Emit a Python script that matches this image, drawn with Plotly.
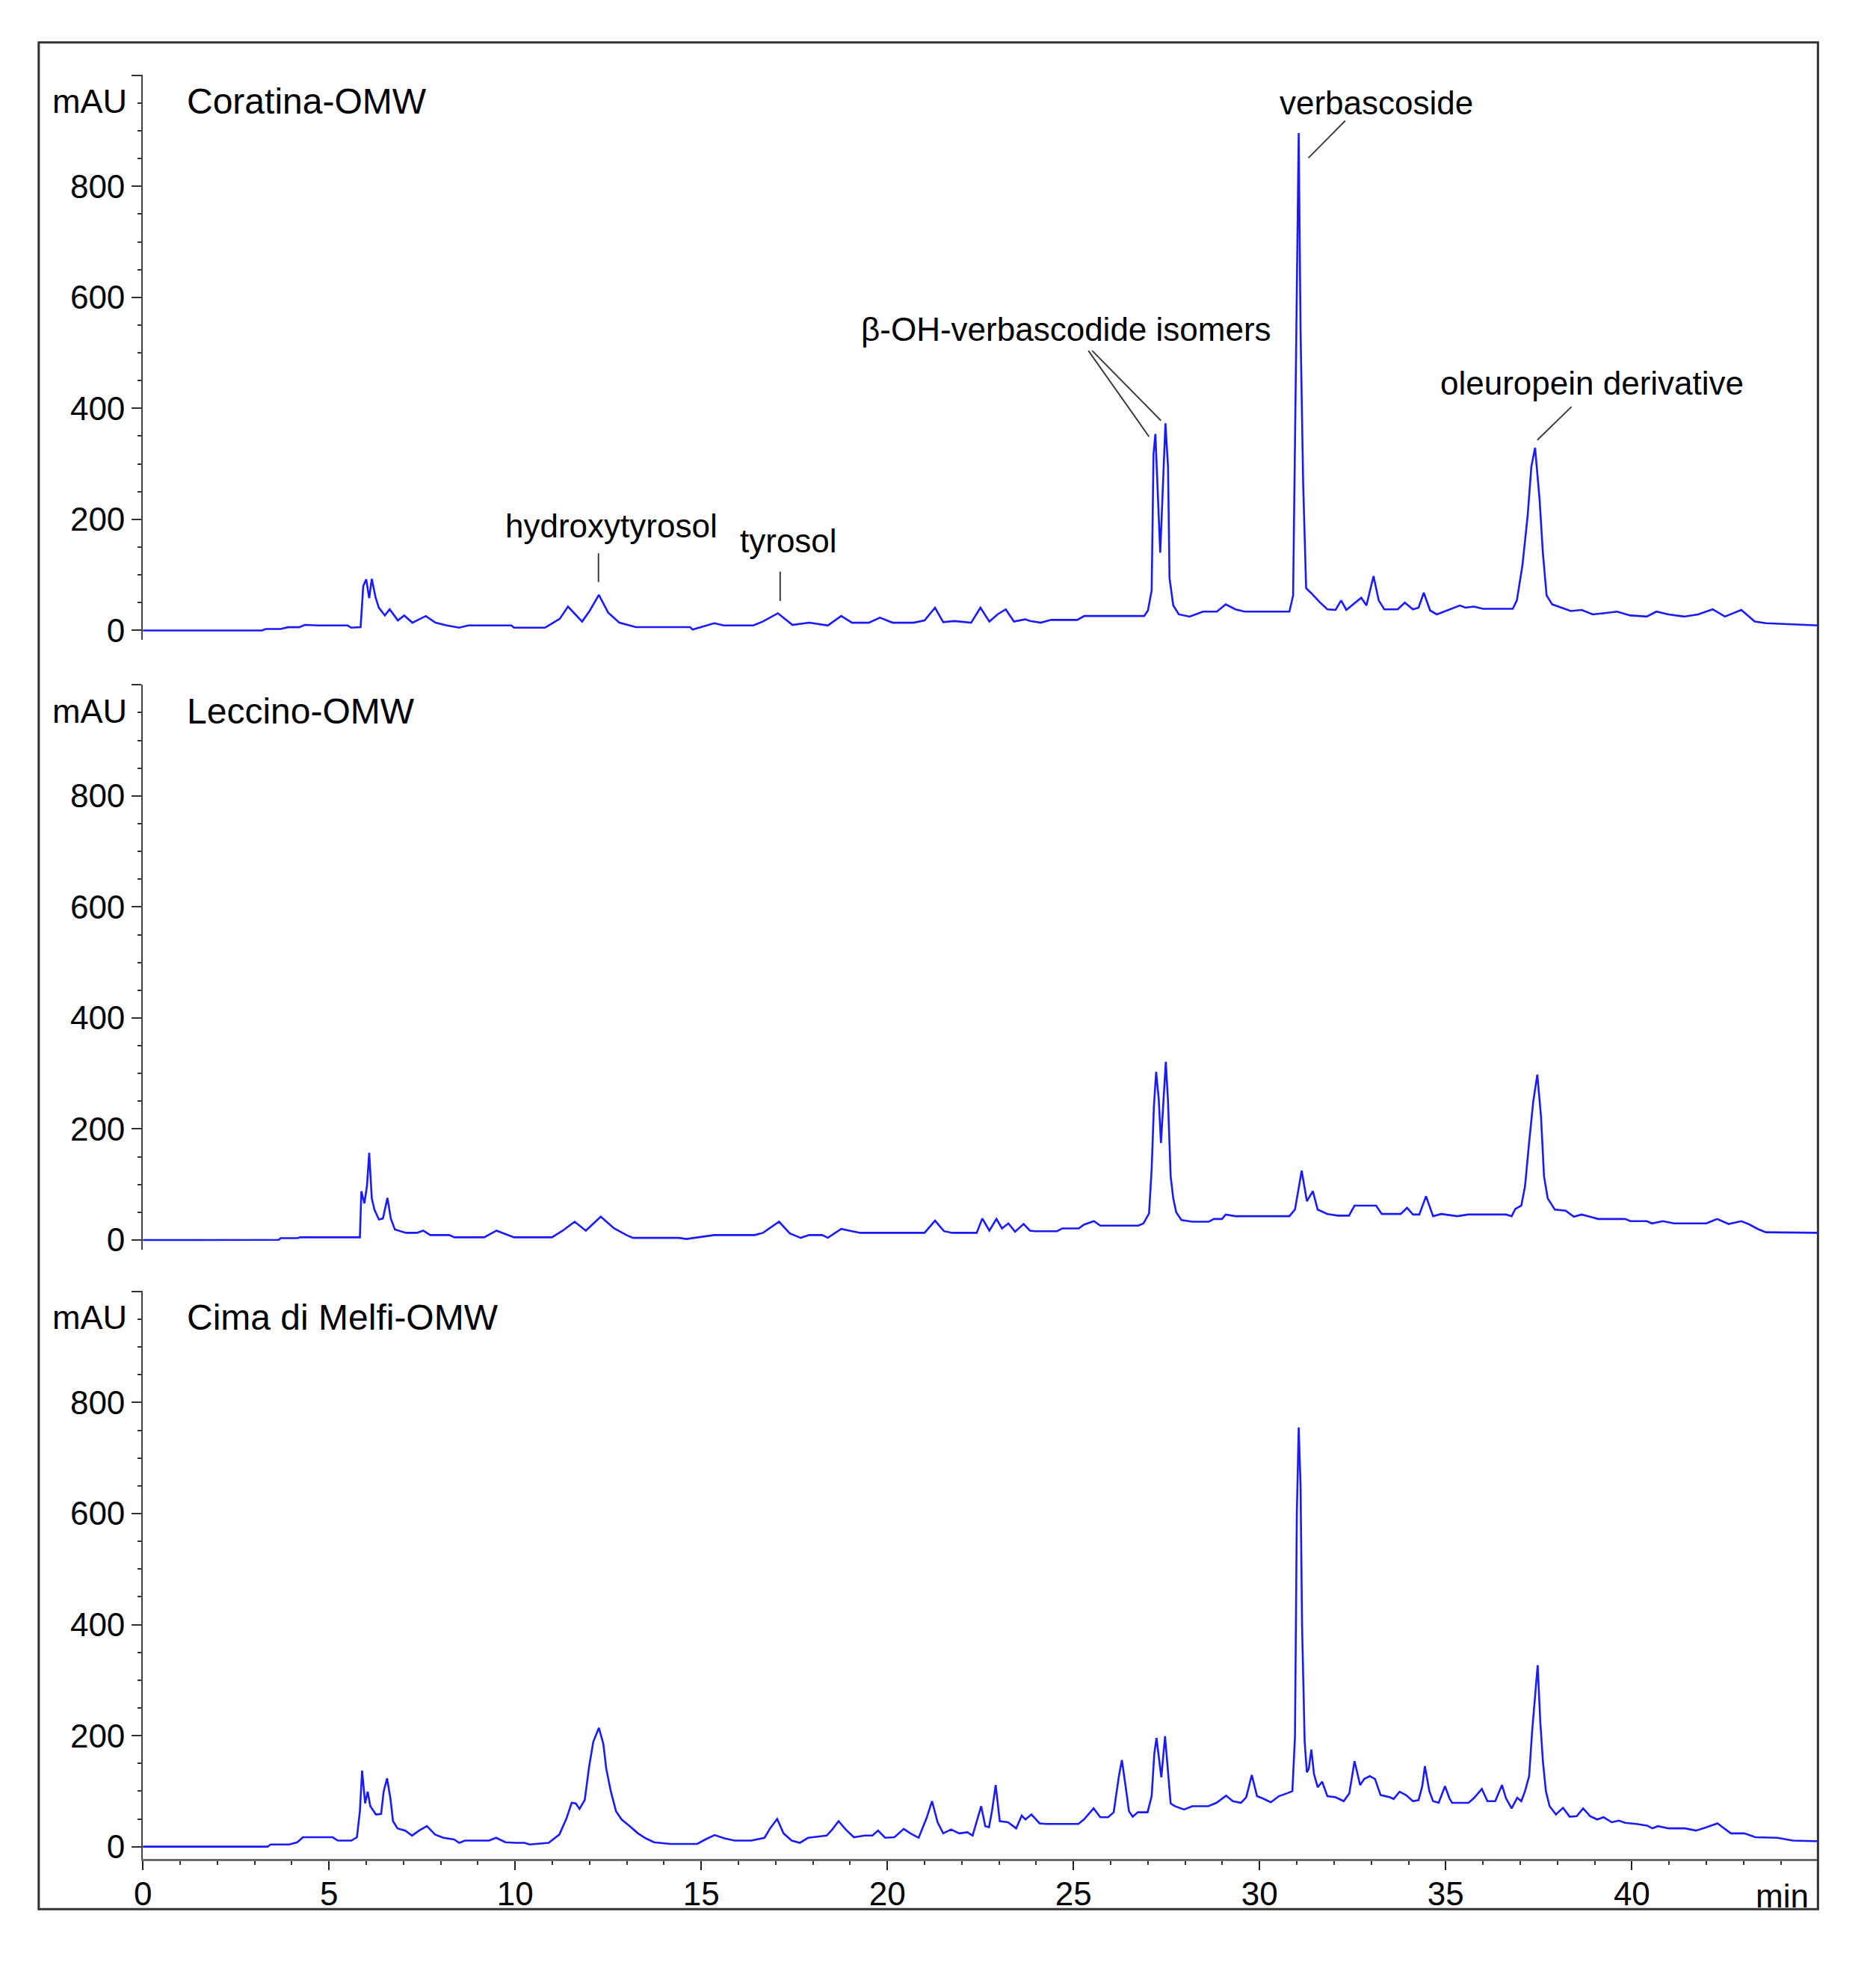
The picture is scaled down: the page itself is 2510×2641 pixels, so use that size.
import plotly.graph_objects as go

# ---------------------------------------------------------------
# DATA (retention time [min], absorbance [mAU])

coratina = [
    (0, 0), (3.2, 0), (3.3, 2.7), (3.7, 2.7), (3.9, 5.8), (4.2, 5.8), (4.35, 10), (4.7, 9),
    (5.5, 9), (5.6, 5), (5.85, 6), (5.92, 80), (6.0, 92), (6.08, 58), (6.15, 93), (6.25, 60),
    (6.34, 41), (6.5, 27), (6.63, 38), (6.85, 18), (7.02, 27), (7.24, 14), (7.6, 26), (7.86, 14),
    (8.16, 9), (8.5, 5), (8.74, 9), (9.9, 9), (9.97, 5), (10.8, 5), (10.9, 9), (11.2, 21),
    (11.42, 43), (11.8, 16), (12.0, 35), (12.25, 64), (12.5, 32), (12.8, 14), (13.24, 6),
    (14.7, 6), (14.77, 1.5), (15.0, 6), (15.35, 13), (15.6, 9), (16.4, 9), (16.65, 16),
    (17.06, 31), (17.45, 10), (17.9, 14), (18.4, 9), (18.76, 26), (19.05, 14), (19.5, 14),
    (19.8, 23), (20.14, 14), (20.7, 14), (21.0, 18), (21.28, 41), (21.5, 15), (21.8, 17),
    (22.25, 14), (22.5, 41), (22.74, 16), (22.96, 29), (23.18, 38), (23.4, 16), (23.7, 20),
    (23.83, 17), (24.12, 14), (24.4, 19), (25.1, 19), (25.29, 26), (26.0, 26), (26.9, 26),
    (27.0, 36), (27.1, 72), (27.15, 318), (27.2, 354), (27.33, 140), (27.47, 373), (27.54, 295),
    (27.58, 94), (27.68, 45), (27.83, 29), (28.12, 25), (28.48, 34), (28.85, 34), (29.09, 47),
    (29.35, 38), (29.6, 34), (30.8, 34), (30.9, 63), (30.98, 500), (31.05, 896), (31.1, 540),
    (31.17, 264), (31.25, 76), (31.39, 67), (31.6, 52), (31.82, 38), (32.04, 37), (32.19, 54),
    (32.33, 37), (32.55, 49), (32.73, 59), (32.87, 45), (33.06, 98), (33.2, 54), (33.35, 38),
    (33.71, 38), (33.9, 50), (34.12, 38), (34.27, 41), (34.41, 68), (34.58, 36), (34.76, 29),
    (35.02, 36), (35.38, 45), (35.53, 41), (35.75, 43), (36.0, 39), (36.8, 39), (36.91, 54),
    (37.06, 117), (37.2, 206), (37.3, 295), (37.4, 329), (37.52, 237), (37.61, 139),
    (37.71, 63), (37.86, 47), (38.07, 42), (38.36, 35), (38.65, 37), (38.95, 29), (39.24, 31),
    (39.6, 34), (39.96, 27), (40.4, 25), (40.66, 34), (40.98, 29), (41.4, 25), (41.78, 29),
    (42.17, 38), (42.5, 25), (42.94, 37), (43.3, 16), (43.6, 13), (44.76, 10), (45.0, 9),
]

leccino = [
    (0, 0), (3.65, 0.5), (3.7, 3.5), (4.15, 3.5), (4.23, 5), (5.83, 5), (5.87, 88), (5.95, 66),
    (6.02, 97), (6.08, 157), (6.15, 75), (6.22, 55), (6.34, 37), (6.45, 39), (6.57, 76),
    (6.66, 39), (6.77, 19), (7.07, 13), (7.36, 13), (7.53, 17), (7.72, 9), (8.23, 9), (8.37, 5),
    (9.17, 5), (9.5, 17), (9.97, 5), (10.99, 5), (11.28, 17), (11.6, 33), (11.9, 17),
    (12.3, 42), (12.66, 21), (13.02, 8), (13.17, 4), (14.4, 4), (14.6, 2), (15.35, 9),
    (16.44, 9), (16.66, 13), (17.09, 33), (17.38, 12), (17.67, 4), (17.9, 9), (18.25, 9),
    (18.4, 4), (18.76, 20), (18.98, 17), (19.27, 13), (21.0, 13), (21.28, 35), (21.52, 16),
    (21.74, 13), (22.4, 13), (22.55, 39), (22.74, 17), (22.93, 38), (23.08, 21), (23.25, 30),
    (23.43, 15), (23.66, 29), (23.83, 17), (23.98, 16), (24.56, 16), (24.7, 21), (25.14, 21),
    (25.29, 28), (25.55, 34), (25.72, 26), (26.74, 26), (26.88, 30), (27.03, 48), (27.1, 128),
    (27.16, 240), (27.22, 303), (27.29, 254), (27.35, 175), (27.48, 321), (27.54, 249),
    (27.61, 115), (27.68, 75), (27.76, 50), (27.9, 36), (28.19, 33), (28.63, 33), (28.77, 38),
    (28.99, 38), (29.09, 46), (29.35, 43), (30.8, 43), (30.95, 55), (31.13, 125), (31.27, 70),
    (31.43, 88), (31.56, 55), (31.82, 47), (32.1, 44), (32.4, 44), (32.55, 62), (33.13, 62),
    (33.28, 47), (33.79, 47), (33.96, 58), (34.12, 46), (34.29, 46), (34.47, 79), (34.66, 43),
    (34.88, 47), (35.31, 43), (35.6, 46), (36.62, 46), (36.77, 43), (36.87, 56), (37.03, 62),
    (37.13, 97), (37.23, 169), (37.35, 249), (37.46, 298), (37.56, 222), (37.64, 115),
    (37.74, 75), (37.93, 55), (38.22, 53), (38.44, 42), (38.65, 46), (38.87, 42), (39.09, 38),
    (39.82, 38), (39.96, 34), (40.4, 34), (40.54, 30), (40.83, 34), (41.13, 30), (42.0, 30),
    (42.29, 38), (42.6, 29), (42.94, 34), (43.16, 28), (43.38, 20), (43.6, 14), (44.9, 14),
    (45.0, 13),
]

cima_di_melfi = [
    (0, 0), (3.35, 0), (3.43, 4), (3.93, 4), (4.15, 8), (4.3, 17), (5.1, 17), (5.24, 11),
    (5.6, 11), (5.75, 17), (5.83, 64), (5.89, 137), (5.97, 78), (6.04, 99), (6.11, 73),
    (6.26, 58), (6.4, 59), (6.47, 100), (6.56, 123), (6.65, 87), (6.72, 46), (6.84, 33),
    (7.05, 29), (7.23, 20), (7.42, 29), (7.63, 37), (7.85, 22), (8.07, 16), (8.36, 13),
    (8.5, 7), (8.65, 11), (9.3, 11), (9.49, 16), (9.74, 8), (10.0, 7), (10.25, 7), (10.39, 4),
    (10.9, 7), (11.19, 22), (11.38, 51), (11.52, 79), (11.63, 78), (11.73, 68), (11.87, 84),
    (11.99, 145), (12.1, 189), (12.25, 214), (12.37, 185), (12.45, 140), (12.57, 100),
    (12.71, 64), (12.86, 49), (13.08, 37), (13.3, 24), (13.51, 15), (13.73, 8), (14.17, 5),
    (14.89, 5), (15.11, 13), (15.36, 21), (15.62, 15), (15.9, 11), (16.34, 11), (16.7, 16),
    (16.85, 33), (17.04, 50), (17.21, 24), (17.43, 11), (17.65, 7), (17.87, 16), (18.37, 20),
    (18.52, 31), (18.69, 46), (18.88, 31), (19.1, 17), (19.39, 20), (19.6, 20), (19.75, 29),
    (19.94, 16), (20.19, 17), (20.44, 32), (20.62, 24), (20.84, 16), (21.05, 51), (21.2, 82),
    (21.35, 44), (21.5, 24), (21.71, 31), (21.93, 24), (22.15, 26), (22.29, 20), (22.52, 73),
    (22.63, 37), (22.73, 35), (22.81, 64), (22.91, 111), (23.02, 46), (23.24, 44), (23.46, 33),
    (23.61, 56), (23.71, 49), (23.87, 58), (24.09, 42), (24.26, 41), (25.13, 41), (25.28, 49),
    (25.54, 69), (25.72, 53), (25.93, 53), (26.08, 62), (26.22, 127), (26.3, 156), (26.4, 109),
    (26.49, 64), (26.59, 54), (26.73, 62), (26.99, 62), (27.1, 91), (27.17, 167), (27.23, 196),
    (27.29, 163), (27.36, 125), (27.46, 199), (27.53, 145), (27.61, 78), (27.72, 73),
    (27.97, 67), (28.19, 73), (28.62, 73), (28.84, 79), (29.1, 92), (29.28, 82), (29.5, 79),
    (29.64, 89), (29.79, 129), (29.93, 91), (30.08, 87), (30.3, 80), (30.52, 91), (30.73, 96),
    (30.88, 100), (30.95, 198), (31.0, 600), (31.05, 755), (31.1, 650), (31.14, 400),
    (31.21, 189), (31.27, 134), (31.32, 140), (31.39, 175), (31.46, 131), (31.56, 107),
    (31.68, 117), (31.82, 91), (32.04, 89), (32.26, 82), (32.41, 96), (32.55, 154), (32.7, 111),
    (32.81, 122), (32.96, 127), (33.1, 122), (33.25, 93), (33.5, 89), (33.6, 86), (33.76, 99),
    (33.93, 93), (34.12, 82), (34.27, 84), (34.37, 109), (34.44, 145), (34.56, 100),
    (34.66, 82), (34.81, 79), (34.88, 91), (34.98, 109), (35.1, 87), (35.17, 79), (35.61, 79),
    (35.75, 87), (35.97, 104), (36.12, 82), (36.33, 82), (36.51, 111), (36.62, 87), (36.77, 69),
    (36.92, 88), (37.03, 82), (37.13, 100), (37.24, 127), (37.32, 207), (37.43, 297),
    (37.47, 327), (37.54, 225), (37.61, 154), (37.69, 100), (37.79, 73), (37.96, 58),
    (38.15, 70), (38.33, 54), (38.52, 55), (38.69, 69), (38.88, 55), (39.07, 49), (39.24, 53),
    (39.46, 44), (39.65, 47), (39.82, 43), (40.12, 41), (40.41, 38), (40.55, 33), (40.7, 37),
    (40.99, 33), (41.43, 33), (41.72, 29), (42.0, 35), (42.3, 42), (42.44, 35), (42.66, 24),
    (43.02, 24), (43.32, 17), (43.9, 16), (44.33, 11), (44.91, 10), (45.0, 10),
]

sample_names = ["Coratina-OMW", "Leccino-OMW", "Cima di Melfi-OMW"]
x_ticks = [0, 5, 10, 15, 20, 25, 30, 35, 40]
y_ticks = [0, 200, 400, 600, 800, 1000]
y_tick_text = ["0", "200", "400", "600", "800", ""]

# peak labels in the top panel: text, label position, pointer segments
peak_labels = [
    ("hydroxytyrosol", 12.59, 189, [(12.24, 87, 12.24, 139)]),
    ("tyrosol", 17.35, 161, [(17.12, 53, 17.12, 106)]),
    ("β-OH-verbascodide isomers", 24.8, 543, [(25.4, 504, 27.03, 349), (25.5, 504, 27.35, 378)]),
    ("verbascoside", 33.13, 951, [(32.3, 918, 31.31, 851)]),
    ("oleuropein derivative", 38.92, 445, [(38.38, 403, 37.46, 343)]),
]

# ---------------------------------------------------------------
# LAYOUT GEOMETRY (pixels of the 2510 x 2641 page)
W, H = 2510, 2641
FONT = "Liberation Sans, Arial, sans-serif"


def py(p):
    return 1 - p / H


x_dom = [180 / W, 2432 / W]
panels = [  # (axis top px, axis bottom px, zero px)
    (100.7, 860, 847),
    (919.7, 1679, 1666),
    (1734.7, 2497, 2481),
]
px_per_mau = 0.7463

fig = go.Figure()
series = [coratina, leccino, cima_di_melfi]
for i, data in enumerate(series):
    yname = "y" if i == 0 else "y%d" % (i + 1)
    fig.add_trace(go.Scatter(
        x=[p[0] for p in data], y=[p[1] for p in data],
        mode="lines", line=dict(color="#1a1aff", width=2.6),
        xaxis="x", yaxis=yname, showlegend=False, hoverinfo="skip"))

layout = dict(
    width=W, height=H, autosize=False,
    margin=dict(l=0, r=0, t=0, b=0),
    paper_bgcolor="white", plot_bgcolor="white",
    font=dict(family=FONT, color="black", size=44),
    xaxis=dict(
        domain=x_dom, range=[0, 45], anchor="y3",
        showline=True, linecolor="#6a6a6a", linewidth=3,
        showgrid=False, zeroline=False,
        tickmode="array", tickvals=x_ticks,
        ticks="outside", ticklen=12, tickwidth=2, tickcolor="#222",
        ticklabelstandoff=-5,
        minor=dict(ticks="outside", ticklen=5, tickwidth=2, tickcolor="#333",
                   tick0=0, dtick=1, showgrid=False),
        tickfont=dict(size=44, family=FONT, color="black"),
    ),
)

annotations = []
shapes = []
for i, (top, bottom, zero) in enumerate(panels):
    lo = -(bottom - zero) / px_per_mau
    hi = (zero - top) / px_per_mau
    key = "yaxis" if i == 0 else "yaxis%d" % (i + 1)
    yref = "y" if i == 0 else "y%d" % (i + 1)
    layout[key] = dict(
        domain=[py(bottom), py(top)], range=[lo, hi + 0.5], anchor="x",
        showline=True, linecolor="#444", linewidth=2,
        showgrid=False, zeroline=False,
        tickmode="array", tickvals=y_ticks, ticktext=y_tick_text,
        ticks="outside", ticklen=13, tickwidth=2, tickcolor="#333",
        minor=dict(ticks="outside", ticklen=5, tickwidth=2, tickcolor="#333",
                   tick0=0, dtick=50, showgrid=False),
        tickfont=dict(size=44, family=FONT, color="black"),
    )
    # unit label and sample name
    annotations.append(dict(
        text="mAU", xref="paper", x=161 / W, xanchor="right",
        yref=yref, y=953, yanchor="middle", showarrow=False,
        font=dict(size=45, family=FONT, color="black")))
    annotations.append(dict(
        text=sample_names[i], xref="x", x=1.15, xanchor="left",
        yref=yref, y=953, yanchor="middle", showarrow=False,
        font=dict(size=48, family=FONT, color="black")))

for text, lx, ly, segs in peak_labels:
    annotations.append(dict(
        text=text, xref="x", x=lx, xanchor="center",
        yref="y", y=ly, yanchor="middle", showarrow=False,
        font=dict(size=44, family=FONT, color="black")))
    for x0, y0, x1, y1 in segs:
        shapes.append(dict(type="line", xref="x", yref="y",
                           x0=x0, y0=y0, x1=x1, y1=y1,
                           line=dict(color="#3c3c3c", width=2)))

# x-axis unit
annotations.append(dict(
    text="min", xref="x", x=44.03, xanchor="center",
    yref="paper", y=py(2547), yanchor="middle", showarrow=False,
    font=dict(size=44, family=FONT, color="black")))

# outer frame
shapes.append(dict(type="rect", xref="paper", yref="paper",
                   x0=40 / W, x1=2432 / W, y0=py(2565), y1=py(57),
                   line=dict(color="#333", width=3)))

layout["annotations"] = annotations
layout["shapes"] = shapes
fig.update_layout(**layout)

fig.write_html("out.html", config={"displayModeBar": False},
               post_script="document.body.style.margin='0';")
